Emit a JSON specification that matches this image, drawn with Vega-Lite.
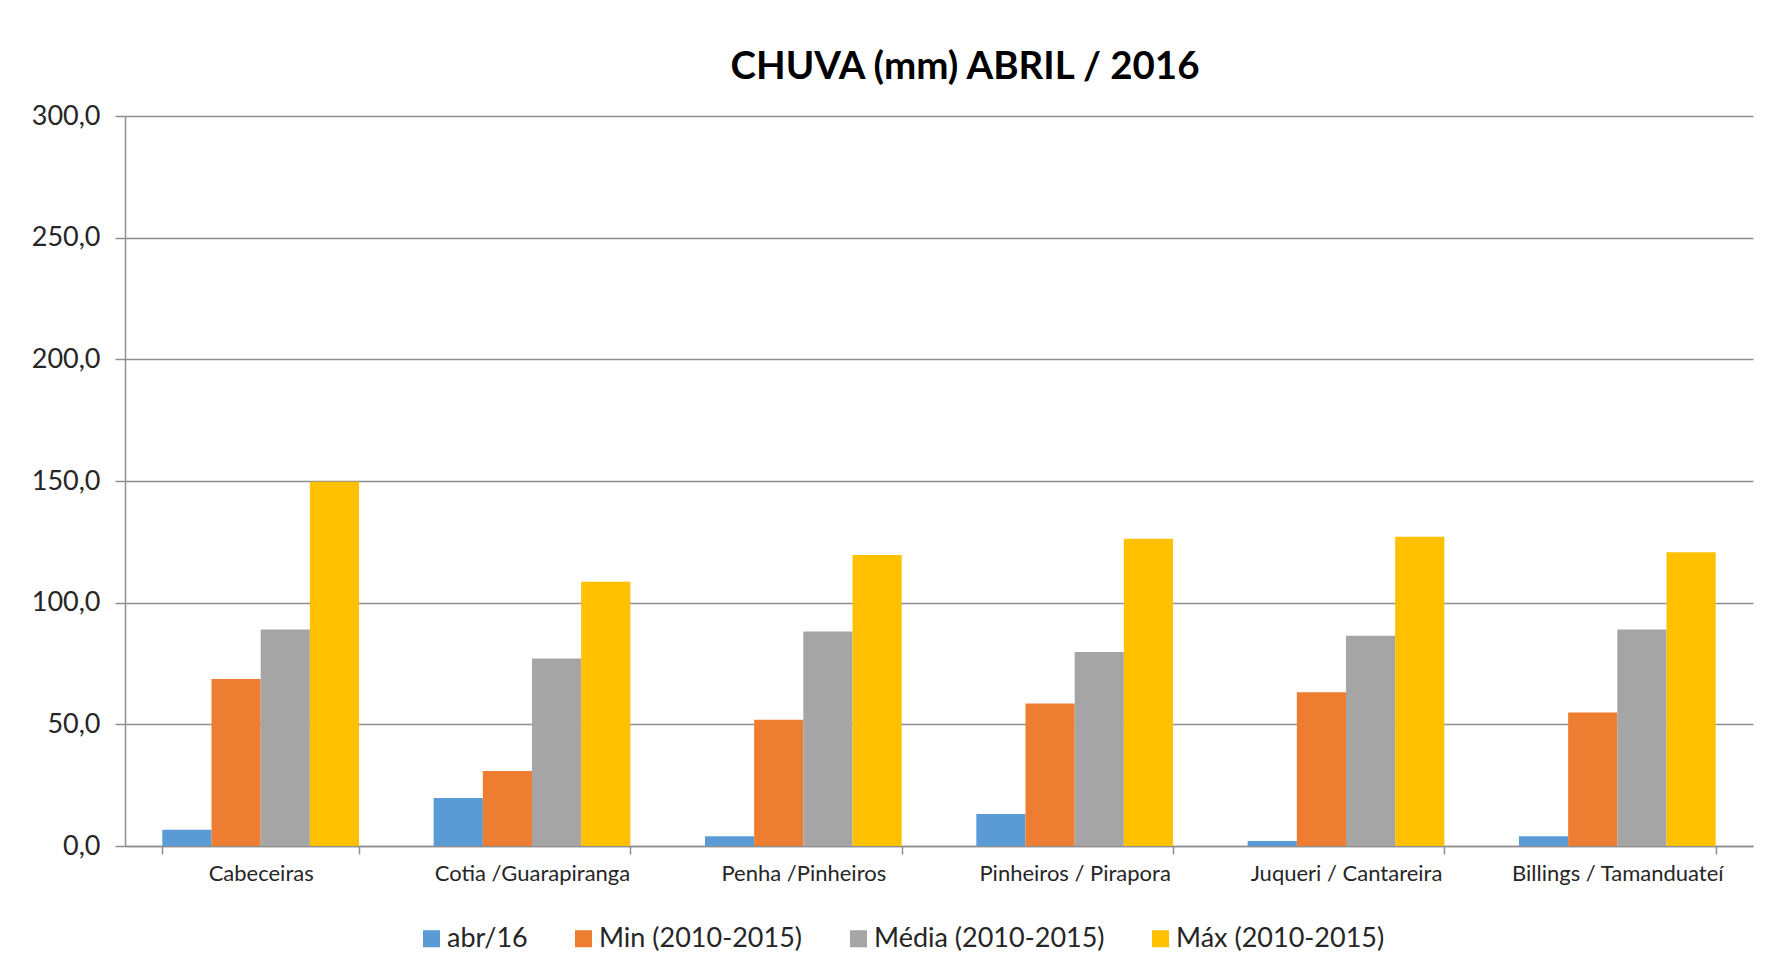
{
  "$schema": "https://vega.github.io/schema/vega-lite/v6.json",
  "autosize": "none",
  "width": 1628,
  "height": 730,
  "padding": {"left": 125, "top": 116, "right": 38, "bottom": 134},
  "background": "white",
  "title": {
    "text": "CHUVA (mm) ABRIL / 2016",
    "font": "Lato",
    "fontSize": 38.5,
    "fontWeight": "bold",
    "color": "#000000",
    "anchor": "middle",
    "frame": "group",
    "dx": 26,
    "dy": 39,
    "baseline": "alphabetic",
    "offset": 24
  },
  "data": {
    "values": [
      {"regiao": "Cabeceiras", "serie": "abr/16", "valor": 6.7},
      {"regiao": "Cabeceiras", "serie": "Min (2010-2015)", "valor": 68.6},
      {"regiao": "Cabeceiras", "serie": "Média (2010-2015)", "valor": 89.0},
      {"regiao": "Cabeceiras", "serie": "Máx  (2010-2015)", "valor": 149.7},
      {"regiao": "Cotia /Guarapiranga", "serie": "abr/16", "valor": 19.7},
      {"regiao": "Cotia /Guarapiranga", "serie": "Min (2010-2015)", "valor": 30.8},
      {"regiao": "Cotia /Guarapiranga", "serie": "Média (2010-2015)", "valor": 77.1},
      {"regiao": "Cotia /Guarapiranga", "serie": "Máx  (2010-2015)", "valor": 108.6},
      {"regiao": "Penha /Pinheiros", "serie": "abr/16", "valor": 4.0},
      {"regiao": "Penha /Pinheiros", "serie": "Min (2010-2015)", "valor": 51.9},
      {"regiao": "Penha /Pinheiros", "serie": "Média (2010-2015)", "valor": 88.2},
      {"regiao": "Penha /Pinheiros", "serie": "Máx  (2010-2015)", "valor": 119.6},
      {"regiao": "Pinheiros / Pirapora", "serie": "abr/16", "valor": 13.1},
      {"regiao": "Pinheiros / Pirapora", "serie": "Min (2010-2015)", "valor": 58.6},
      {"regiao": "Pinheiros / Pirapora", "serie": "Média (2010-2015)", "valor": 79.7},
      {"regiao": "Pinheiros / Pirapora", "serie": "Máx  (2010-2015)", "valor": 126.3},
      {"regiao": "Juqueri / Cantareira", "serie": "abr/16", "valor": 2.1},
      {"regiao": "Juqueri / Cantareira", "serie": "Min (2010-2015)", "valor": 63.2},
      {"regiao": "Juqueri / Cantareira", "serie": "Média (2010-2015)", "valor": 86.4},
      {"regiao": "Juqueri / Cantareira", "serie": "Máx  (2010-2015)", "valor": 127.1},
      {"regiao": "Billings / Tamanduateí", "serie": "abr/16", "valor": 4.0},
      {"regiao": "Billings / Tamanduateí", "serie": "Min (2010-2015)", "valor": 54.9},
      {"regiao": "Billings / Tamanduateí", "serie": "Média (2010-2015)", "valor": 89.0},
      {"regiao": "Billings / Tamanduateí", "serie": "Máx  (2010-2015)", "valor": 120.7}
    ]
  },
  "mark": {"type": "bar"},
  "encoding": {
    "x": {
      "field": "regiao",
      "type": "nominal",
      "sort": null,
      "scale": {"paddingInner": 0.275, "paddingOuter": 0.1375},
      "axis": {
        "title": null,
        "labelAngle": 0,
        "labelFont": "Lato",
        "labelFontSize": 22,
        "labelColor": "#262626",
        "labelPadding": 9,
        "labelLimit": 0,
        "domainColor": "#8f8f8f",
        "domainWidth": 1.5,
        "tickColor": "#8f8f8f",
        "tickWidth": 1.5,
        "tickSize": 8,
        "tickBand": "extent",
        "grid": false
      }
    },
    "xOffset": {
      "field": "serie",
      "type": "nominal",
      "sort": ["abr/16", "Min (2010-2015)", "Média (2010-2015)", "Máx  (2010-2015)"],
      "scale": {"paddingInner": 0, "paddingOuter": 0}
    },
    "y": {
      "field": "valor",
      "type": "quantitative",
      "scale": {"domain": [0, 300], "nice": false},
      "axis": {
        "title": null,
        "values": [0, 50, 100, 150, 200, 250, 300],
        "labelExpr": "replace(format(datum.value, '.1f'), '.', ',')",
        "labelFont": "Lato",
        "labelFontSize": 27,
        "labelColor": "#262626",
        "labelPadding": 15,
        "tickSize": 10,
        "tickColor": "#8f8f8f",
        "tickWidth": 1.5,
        "domainColor": "#8f8f8f",
        "domainWidth": 1.5,
        "grid": true,
        "gridColor": "#8f8f8f",
        "gridWidth": 1.5
      }
    },
    "color": {
      "field": "serie",
      "type": "nominal",
      "scale": {
        "domain": ["abr/16", "Min (2010-2015)", "Média (2010-2015)", "Máx  (2010-2015)"],
        "range": ["#5B9BD5", "#ED7D31", "#A5A5A5", "#FFC000"]
      },
      "legend": {
        "title": null,
        "orient": "none",
        "direction": "horizontal",
        "legendX": 293,
        "legendY": 809,
        "symbolType": "square",
        "symbolSize": 290,
        "symbolStrokeWidth": 0,
        "labelFont": "Lato",
        "labelFontSize": 27,
        "labelColor": "#262626",
        "labelOffset": 2,
        "labelLimit": 0,
        "columnPadding": 42
      }
    }
  },
  "config": {
    "view": {"stroke": null}
  }
}
